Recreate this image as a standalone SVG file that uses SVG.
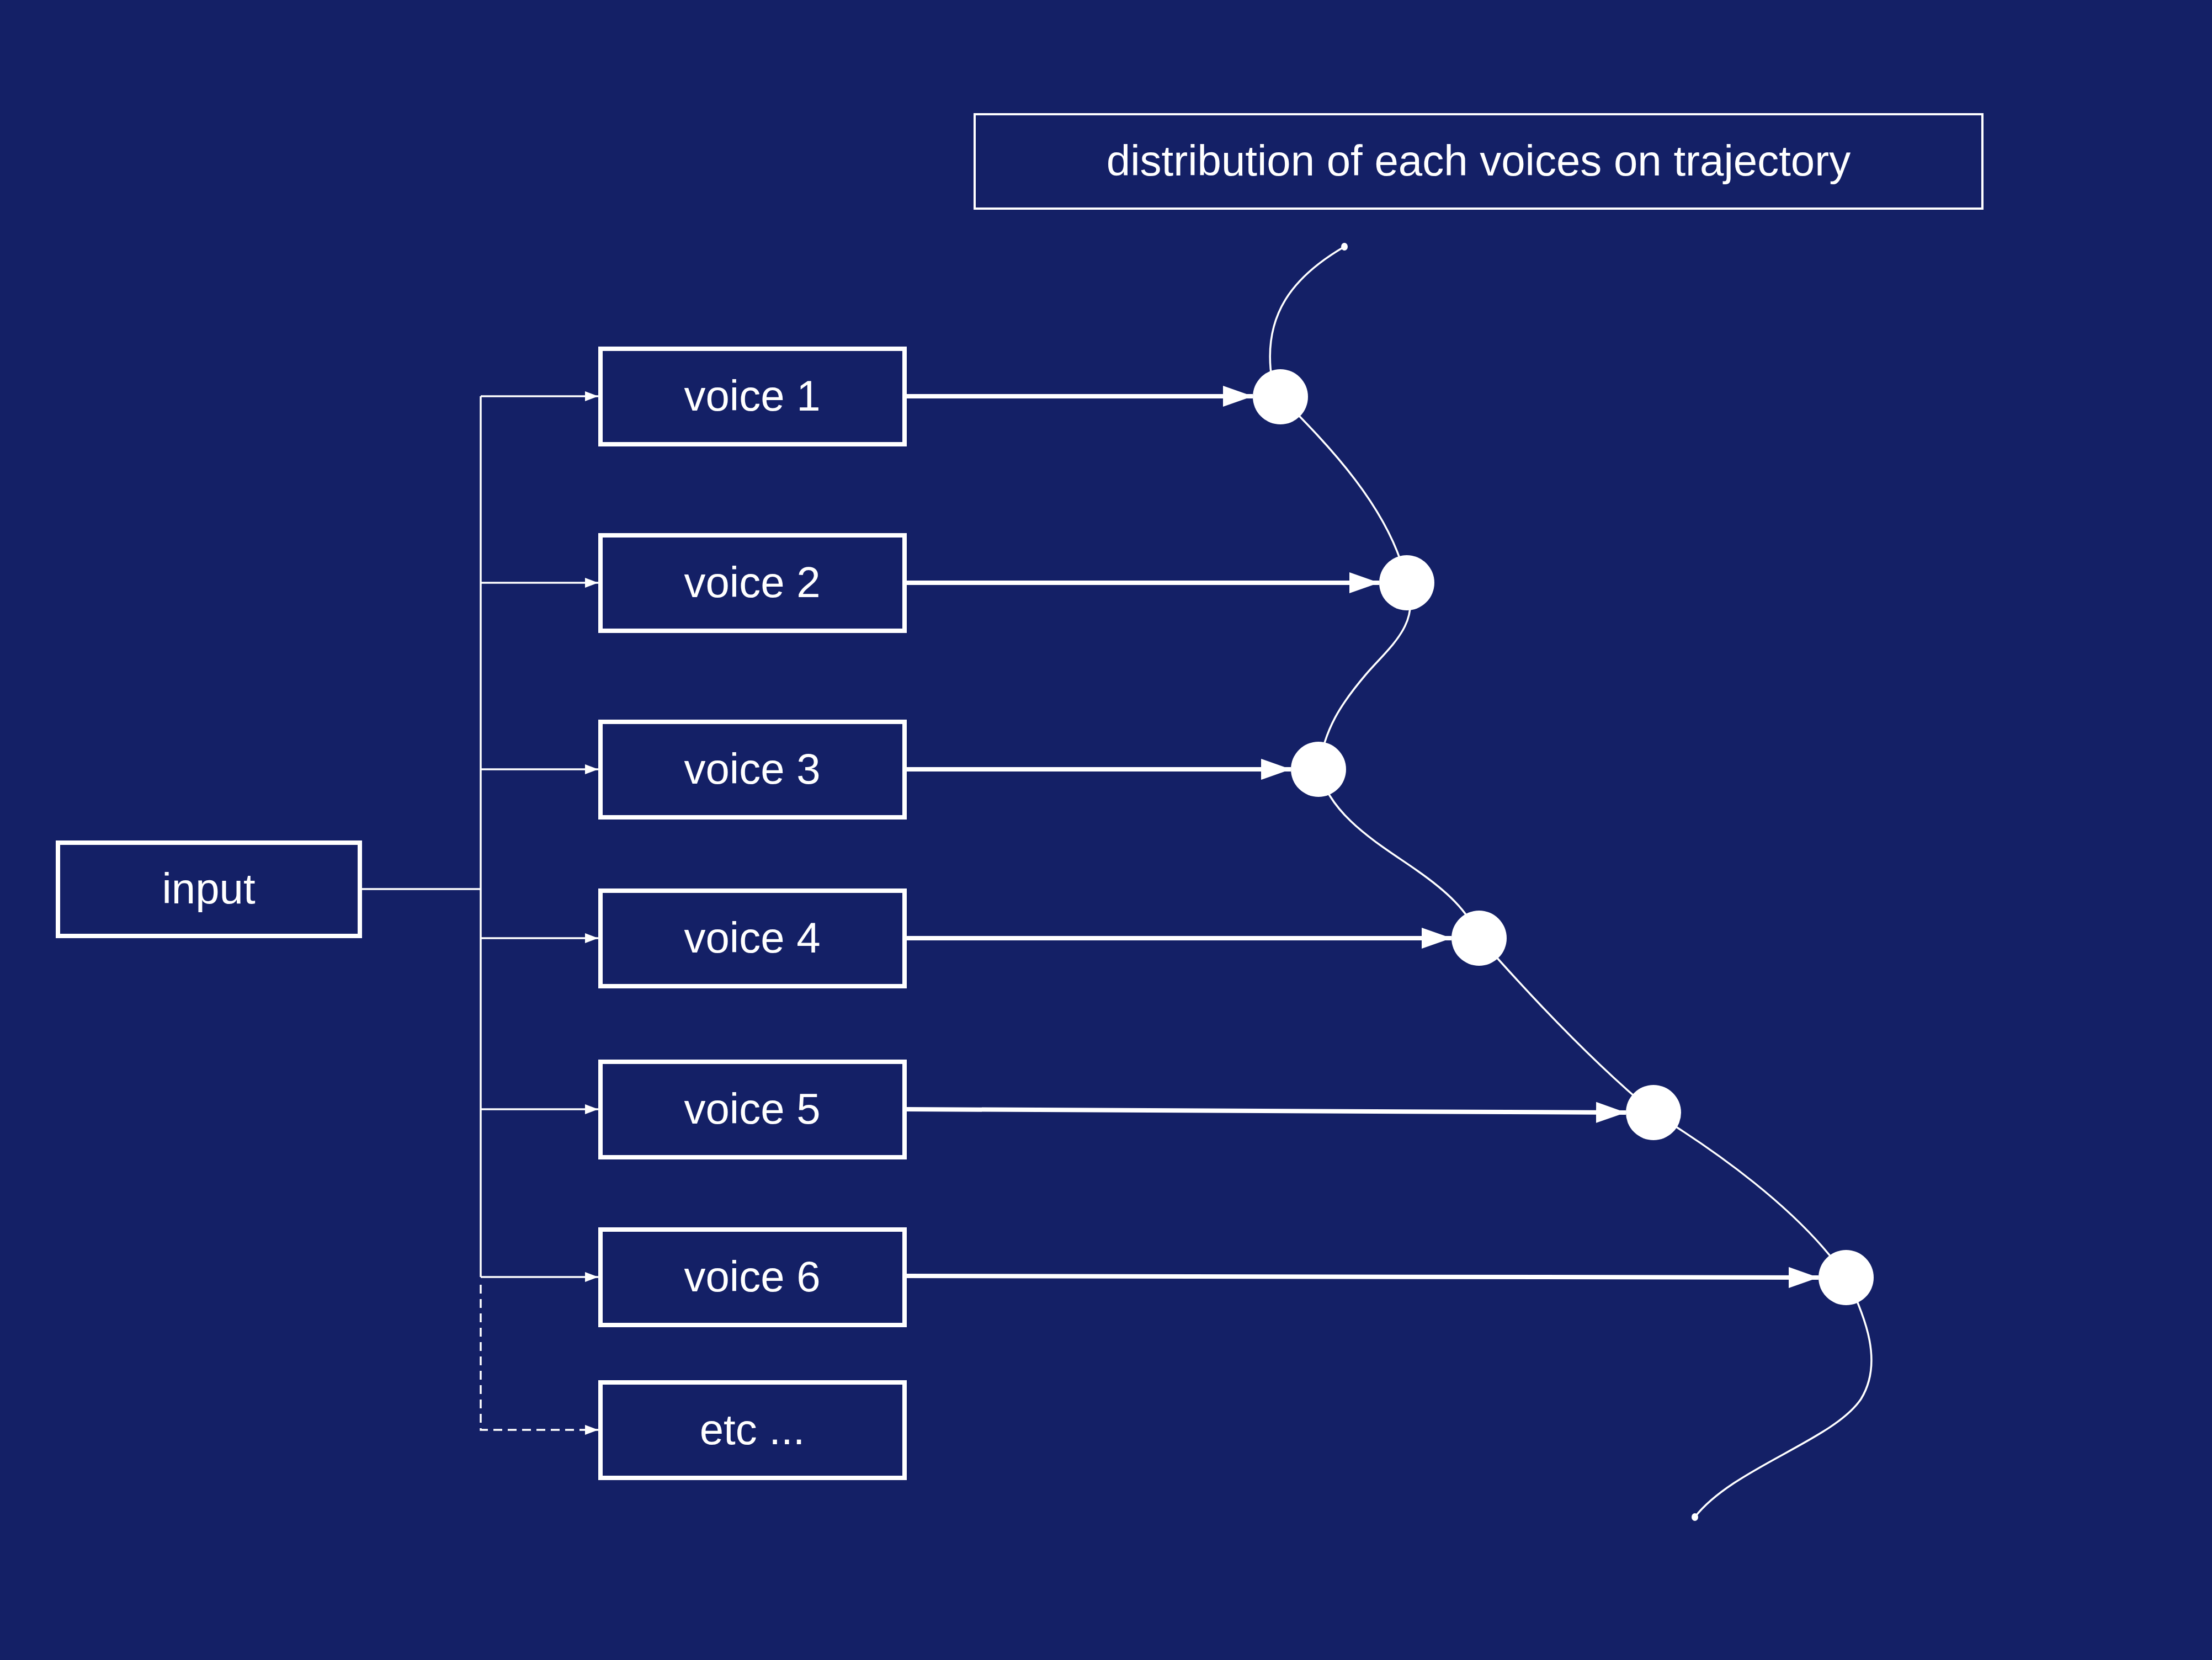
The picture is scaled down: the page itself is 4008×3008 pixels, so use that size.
<svg xmlns="http://www.w3.org/2000/svg" width="4008" height="3008" viewBox="0 0 4008 3008">
<style>
.box{fill:#142066;stroke:#ffffff;stroke-width:8}
.title{fill:#142066;stroke:#ffffff;stroke-width:4}
.lbl{font-family:"Liberation Sans",Arial,sans-serif;font-size:78px;fill:#ffffff;text-anchor:middle}
.thin{stroke:#ffffff;stroke-width:3.5;fill:none}
.thick{stroke:#ffffff;stroke-width:8;fill:none}
.traj{stroke:#ffffff;stroke-width:3.5;fill:none}
.dot{fill:#ffffff}
</style>
<defs>
<marker id="small" markerUnits="userSpaceOnUse" markerWidth="24" markerHeight="18" refX="24" refY="9" orient="auto">
<path d="M0,0 L24,9 L0,18 z" fill="#ffffff"/>
</marker>
<marker id="big" markerUnits="userSpaceOnUse" markerWidth="54" markerHeight="38" refX="54" refY="19" orient="auto">
<path d="M0,0 L54,19 L0,38 z" fill="#ffffff"/>
</marker>
</defs>
<rect x="0" y="0" width="4008" height="3008" fill="#142066"/>

<g id="connectors">
<line class="thin" x1="654" y1="1611" x2="871" y2="1611"/>
<line class="thin" x1="871" y1="718" x2="871" y2="2314"/>
<line class="thin" x1="871" y1="718" x2="1084" y2="718" marker-end="url(#small)"/>
<line class="thin" x1="871" y1="1056" x2="1084" y2="1056" marker-end="url(#small)"/>
<line class="thin" x1="871" y1="1394" x2="1084" y2="1394" marker-end="url(#small)"/>
<line class="thin" x1="871" y1="1700" x2="1084" y2="1700" marker-end="url(#small)"/>
<line class="thin" x1="871" y1="2010" x2="1084" y2="2010" marker-end="url(#small)"/>
<line class="thin" x1="871" y1="2314" x2="1084" y2="2314" marker-end="url(#small)"/>
<path class="thin" d="M871,2328 L871,2591 L1084,2591" stroke-dasharray="16 10" marker-end="url(#small)"/>

<line class="thick" x1="1643" y1="718" x2="2270" y2="718" marker-end="url(#big)"/>
<line class="thick" x1="1643" y1="1056" x2="2499" y2="1056" marker-end="url(#big)"/>
<line class="thick" x1="1643" y1="1394" x2="2339" y2="1394" marker-end="url(#big)"/>
<line class="thick" x1="1643" y1="1700" x2="2630" y2="1700" marker-end="url(#big)"/>
<line class="thick" x1="1643" y1="2010" x2="2946" y2="2016" marker-end="url(#big)"/>
<line class="thick" x1="1643" y1="2312" x2="3295" y2="2315" marker-end="url(#big)"/>
</g>

<g id="trajectory">
<path class="traj" d="M2436,447 C2345,500 2285,570 2305,690 M2320,719 C2400,800 2520,920 2549,1056 C2575,1130 2520,1170 2475,1222 C2430,1275 2400,1320 2389,1394 C2410,1480 2500,1530 2567,1577 C2620,1614 2660,1650 2680,1699 C2760,1790 2880,1920 2996,2016 C3100,2080 3260,2190 3345,2314 C3382,2390 3412,2470 3372,2535 C3322,2610 3140,2660 3071,2749"/>
<ellipse class="dot" cx="2436" cy="447" rx="6" ry="7"/>
<ellipse class="dot" cx="3071" cy="2749" rx="6" ry="7"/>
</g>

<g id="title">
<rect class="title" x="1766" y="207" width="1826" height="171"/>
<text class="lbl" x="2679" y="318">distribution of each voices on trajectory</text>
</g>

<g id="input">
<rect class="box" x="105" y="1527" width="547" height="169"/>
<text class="lbl" x="378" y="1637">input</text>
</g>

<g id="voice1">
<rect class="box" x="1088" y="632" width="551" height="173"/>
<text class="lbl" x="1363" y="744">voice 1</text>
</g>
<g id="voice2">
<rect class="box" x="1088" y="970" width="551" height="173"/>
<text class="lbl" x="1363" y="1082">voice 2</text>
</g>
<g id="voice3">
<rect class="box" x="1088" y="1308" width="551" height="173"/>
<text class="lbl" x="1363" y="1420">voice 3</text>
</g>
<g id="voice4">
<rect class="box" x="1088" y="1614" width="551" height="173"/>
<text class="lbl" x="1363" y="1726">voice 4</text>
</g>
<g id="voice5">
<rect class="box" x="1088" y="1924" width="551" height="173"/>
<text class="lbl" x="1363" y="2036">voice 5</text>
</g>
<g id="voice6">
<rect class="box" x="1088" y="2228" width="551" height="173"/>
<text class="lbl" x="1363" y="2340">voice 6</text>
</g>
<g id="etc">
<rect class="box" x="1088" y="2505" width="551" height="173"/>
<text class="lbl" x="1363" y="2617">etc ...</text>
</g>

<g id="point1"><circle class="dot" cx="2320" cy="719" r="50"/></g>
<g id="point2"><circle class="dot" cx="2549" cy="1056" r="50"/></g>
<g id="point3"><circle class="dot" cx="2389" cy="1394" r="50"/></g>
<g id="point4"><circle class="dot" cx="2680" cy="1700" r="50"/></g>
<g id="point5"><circle class="dot" cx="2996" cy="2016" r="50"/></g>
<g id="point6"><circle class="dot" cx="3345" cy="2315" r="50"/></g>
</svg>
